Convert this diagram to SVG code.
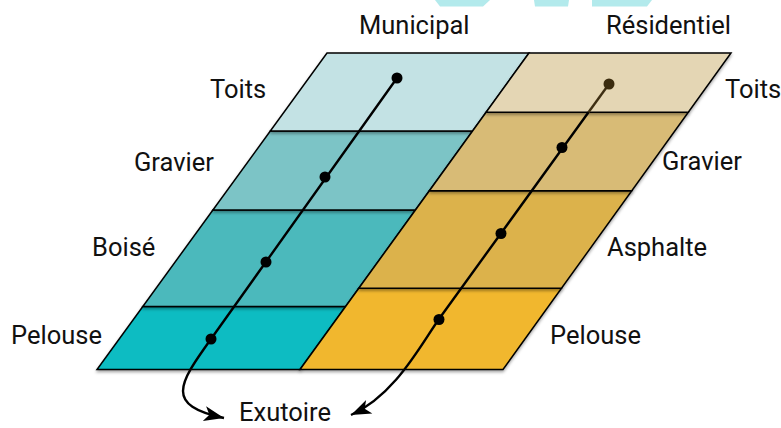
<svg xmlns="http://www.w3.org/2000/svg" width="781" height="428" viewBox="0 0 781 428">
<defs>
<filter id="sh" x="-10%" y="-20%" width="120%" height="150%">
<feDropShadow dx="0" dy="2" stdDeviation="1.6" flood-color="#000" flood-opacity="0.35"/>
</filter>
<marker id="arr" markerUnits="userSpaceOnUse" markerWidth="26" markerHeight="20" viewBox="-22 -10 24 20" refX="0" refY="0" orient="auto">
<path d="M0,0 L-20,-7.5 L-15,0 L-20,7.5 Z" fill="#000"/>
</marker>
<style>
.t{stroke:#000;stroke-width:1.5;stroke-linejoin:miter;filter:url(#sh)}
.lb{font-family:Roboto,"Liberation Sans",sans-serif;font-size:25.5px;fill:#111}
.ln{fill:none;stroke:#000;stroke-width:2.4}
.dot{fill:#000}
.bg{fill:#b3eaec}
</style>
</defs>
<rect width="781" height="428" fill="#fff"/>
<g id="banner">
<polygon class="bg" points="435,0 490,0 483,6.5 440,6.5"/>
<polygon class="bg" points="534,0 569,0 568,6.5 535,6.5"/>
<polygon class="bg" points="592,0 652,0 647,6.5 592,6.5"/>
</g>
<g id="municipal">
<g id="m-pelouse"><polygon class="t" fill="#07bcc2" points="142.8,306.5 345.6,306.5 300,369.5 97,369.5"/><text class="lb" x="11" y="344">Pelouse</text></g>
<g id="m-boise"><polygon class="t" fill="#4bb9bc" points="212.9,210 415.4,210 345.6,306.5 142.8,306.5"/><text class="lb" x="92" y="256">Boisé</text></g>
<g id="m-gravier"><polygon class="t" fill="#7cc4c6" points="270.3,131 472.6,131 415.4,210 212.9,210"/><text class="lb" x="134" y="171">Gravier</text></g>
<g id="m-toits"><polygon class="t" fill="#c3e2e4" points="327,53 529,53 472.6,131 270.3,131"/><text class="lb" x="210" y="98">Toits</text></g>
<text class="lb" x="359" y="34">Municipal</text>
</g>
<g id="residentiel">
<g id="r-pelouse"><polygon class="t" fill="#f1b72f" points="358.8,288.3 561.5,288.3 503,369.5 300,369.5"/><text class="lb" x="550" y="344">Pelouse</text></g>
<g id="r-asphalte"><polygon class="t" fill="#dcb24b" points="429.4,190.7 631.8,190.7 561.5,288.3 358.8,288.3"/><text class="lb" x="607" y="256">Asphalte</text></g>
<g id="r-gravier"><polygon class="t" fill="#d8bb76" points="486.1,112.3 688.3,112.3 631.8,190.7 429.4,190.7"/><text class="lb" x="662" y="170">Gravier</text></g>
<g id="r-toits"><polygon class="t" fill="#e4d6b4" points="529,53 731,53 688.3,112.3 486.1,112.3"/><text class="lb" x="725" y="98">Toits</text></g>
<text class="lb" x="606" y="34">Résidentiel</text>
</g>
<g id="connectors">
<path class="ln" d="M397,78 L211,339 C178,385 165,405 224,418" marker-end="url(#arr)"/>
<circle class="dot" cx="397" cy="78" r="5.5"/>
<circle class="dot" cx="325" cy="177" r="5.5"/>
<circle class="dot" cx="266" cy="262" r="5.5"/>
<circle class="dot" cx="211" cy="339" r="5.5"/>
<path class="ln" d="M588.5,112.3 L439,319 C420,346 395,395 351,415" marker-end="url(#arr)"/>
<path class="ln" d="M609,84 L588.5,112.3" style="stroke:#3d2e12"/>
<circle cx="609" cy="84" r="5.5" fill="#3b2c0f"/>
<circle class="dot" cx="562" cy="147.5" r="5.5"/>
<circle class="dot" cx="501" cy="233.5" r="5.5"/>
<circle class="dot" cx="439" cy="319.5" r="5.5"/>
</g>
<g id="exutoire"><text class="lb" x="239" y="421">Exutoire</text></g>
</svg>
